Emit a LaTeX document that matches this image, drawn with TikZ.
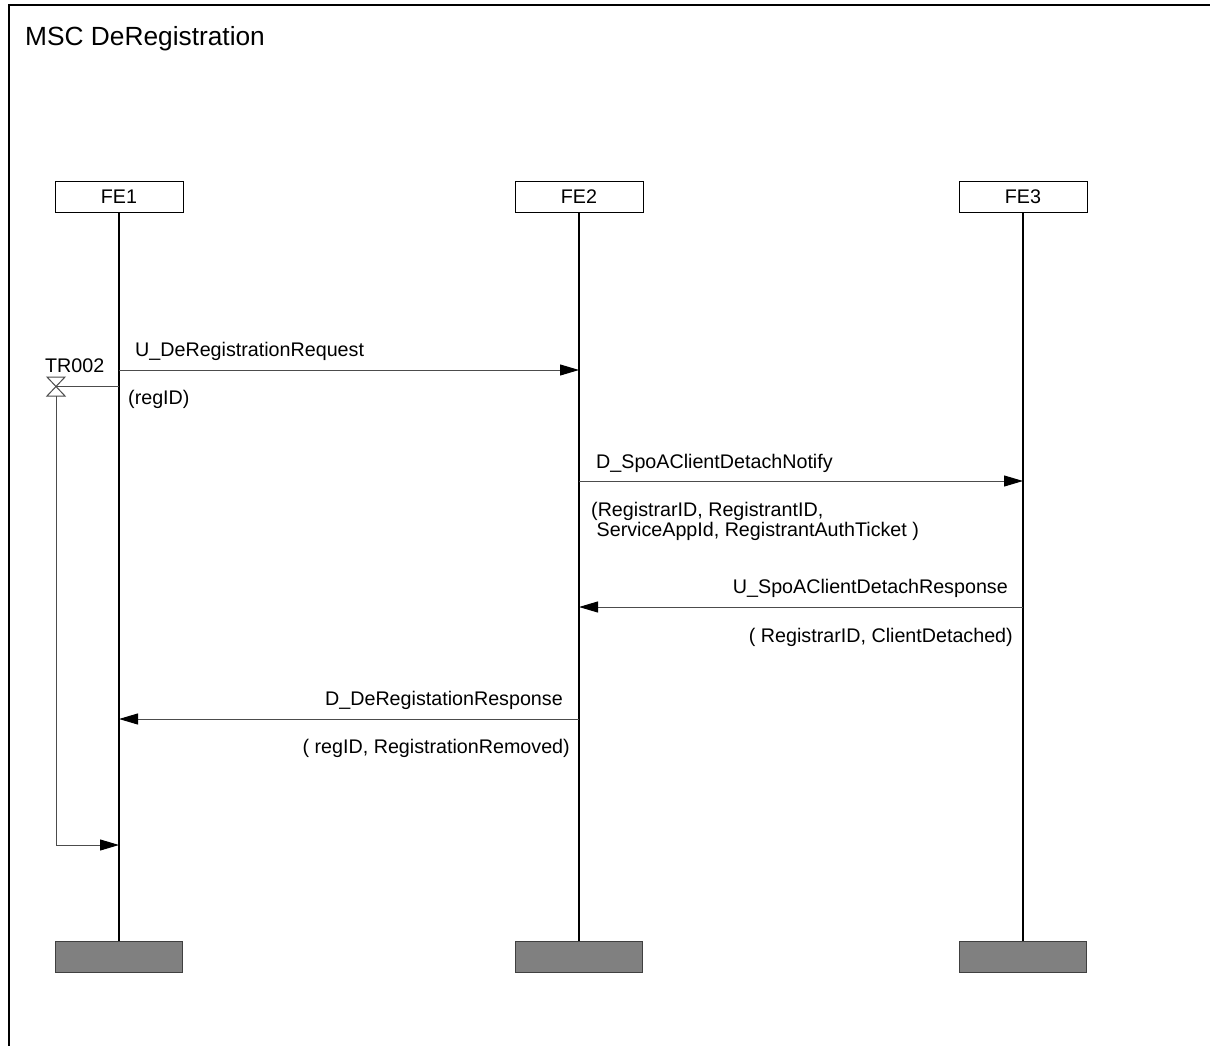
\documentclass[tikz,border=0pt]{standalone}
\usepackage{fontspec}
\setmainfont{Liberation Sans}
\usetikzlibrary{arrows.meta}
\begin{document}
\begin{tikzpicture}[x=1pt,y=-1pt,
  font=\fontsize{19.7}{21}\selectfont,
  head/.style={draw, line width=1pt, minimum width=128pt, minimum height=31pt,
    inner sep=0pt, anchor=north},
  foot/.style={draw=black!75, fill=black!50, line width=1pt, minimum width=127pt,
    minimum height=31pt, inner sep=0pt, anchor=north},
  life/.style={line width=1.2pt},
  msg/.style={draw=black!70, line width=1pt, -{Triangle[length=19pt,width=11pt,color=black,fill=black]}},
  lblw/.style={inner sep=0pt, anchor=base west},
  lble/.style={inner sep=0pt, anchor=base east},
  tmr/.style={draw=black!70, line width=1pt},
]
\useasboundingbox (0,0) rectangle (1210,1046);
\fill[white] (0,0) rectangle (1210,1046);
% diagram frame (open to the right and bottom)
\draw[line width=1.3pt] (9,1050) |- (1215,5);
\node[lblw] (title) at (25,46) {\fontsize{26.3}{30}\selectfont MSC DeRegistration};

% instance heads, ends and lifelines
\node[head] (fe1) at (119,181) {FE1};
\node[head] (fe2) at (579,181) {FE2};
\node[head] (fe3) at (1023,181) {FE3};
\node[foot] (end1) at (119,941) {};
\node[foot] (end2) at (579,941) {};
\node[foot] (end3) at (1023,941) {};
\draw[life] (fe1) -- (end1);
\draw[life] (fe2) -- (end2);
\draw[life] (fe3) -- (end3);

% message 1
\coordinate (m1a) at (119,370);
\coordinate (m1b) at (579,370);
\draw[msg] (m1a) -- (m1b);
\node[lblw] (m1l) at (135,356) {U\_DeRegistrationRequest};
\node[lblw] (m1p) at (128,404) {(regID)};

% timer TR002
\coordinate (tc) at (56,386);
\coordinate (ttl) at (47,377);
\coordinate (ttr) at (65,377);
\coordinate (tbl) at (47,396);
\coordinate (tbr) at (65,396);
\coordinate (tb) at (56,396);
\coordinate (tend) at (56,845);
\coordinate (tto) at (119,845);
\draw[tmr] (ttl) -- (ttr) -- (tbl) -- (tbr) -- cycle;
\draw[tmr] (tc) -- (m1a |- tc);
\node[lblw] (tname) at (45,372) {TR002};
\draw[msg] (tb) -- (tend) -- (tto);

% message 2
\coordinate (m2a) at (579,481);
\coordinate (m2b) at (1023,481);
\draw[msg] (m2a) -- (m2b);
\node[lblw] (m2l) at (596,468) {D\_SpoAClientDetachNotify};
\node[lblw] (m2p1) at (591,516) {(RegistrarID, RegistrantID,};
\node[lblw] (m2p2) at (591,536) {\ ServiceAppId, RegistrantAuthTicket )};

% message 3
\coordinate (m3a) at (1023,607);
\coordinate (m3b) at (579,607);
\draw[msg] (m3a) -- (m3b);
\node[lble] (m3l) at (1008,593) {U\_SpoAClientDetachResponse};
\node[lble] (m3p) at (1013,642) {( RegistrarID, ClientDetached)};

% message 4
\coordinate (m4a) at (579,719);
\coordinate (m4b) at (119,719);
\draw[msg] (m4a) -- (m4b);
\node[lble] (m4l) at (563,705) {D\_DeRegistationResponse};
\node[lble] (m4p) at (570,753) {( regID, RegistrationRemoved)};
\end{tikzpicture}
\end{document}
